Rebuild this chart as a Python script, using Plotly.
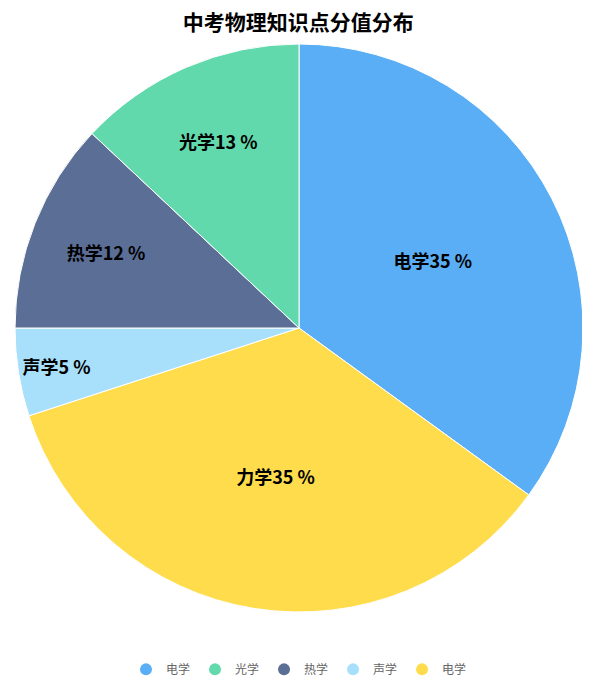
import plotly.graph_objects as go

# slice data, clockwise from 12 o'clock
subjects = ['电学', '力学', '声学', '热学', '光学']
percents = [35, 35, 5, 12, 13]
slice_colors = ['#5AAEF5', '#FFDC4C', '#A8DFFA', '#5B6E96', '#62D9AD']

# legend entries as they appear in the original (order and names)
legend_names = ['电学', '光学', '热学', '声学', '电学']
legend_colors = ['#5AAEF5', '#62D9AD', '#5B6E96', '#A8DFFA', '#FFDC4C']

font_family = 'Noto Sans CJK SC, Noto Sans, sans-serif'

fig = go.Figure()

fig.add_trace(go.Pie(
    labels=subjects,
    values=percents,
    sort=False,
    direction='clockwise',
    rotation=0,
    marker=dict(colors=slice_colors, line=dict(color='white', width=1)),
    texttemplate='<b>%{label}%{value} %</b>',
    textposition='inside',
    insidetextorientation='horizontal',
    insidetextfont=dict(size=18, color='black', family=font_family),
    hoverinfo='label+percent',
    showlegend=False,
))

# dummy traces for the legend (pie would merge the duplicated names)
for name, color in zip(legend_names, legend_colors):
    fig.add_trace(go.Scatter(
        x=[None], y=[None],
        mode='markers',
        name=name,
        marker=dict(size=12, color=color, symbol='circle'),
        showlegend=True,
    ))

fig.update_layout(
    width=590,
    height=687,
    paper_bgcolor='white',
    plot_bgcolor='white',
    margin=dict(l=7, r=15, t=36, b=83),
    title=dict(
        text='<b>中考物理知识点分值分布</b>',
        x=0.492, xanchor='center',
        y=0.979, yanchor='middle',
        font=dict(size=21, color='black', family=font_family),
    ),
    legend=dict(
        orientation='h',
        x=0.5, xanchor='center',
        y=-0.101, yanchor='middle',
        font=dict(size=12, color='#666666', family=font_family),
        itemwidth=30,
    ),
    xaxis=dict(visible=False),
    yaxis=dict(visible=False),
    font=dict(family=font_family),
)

fig.write_html('out.html')
